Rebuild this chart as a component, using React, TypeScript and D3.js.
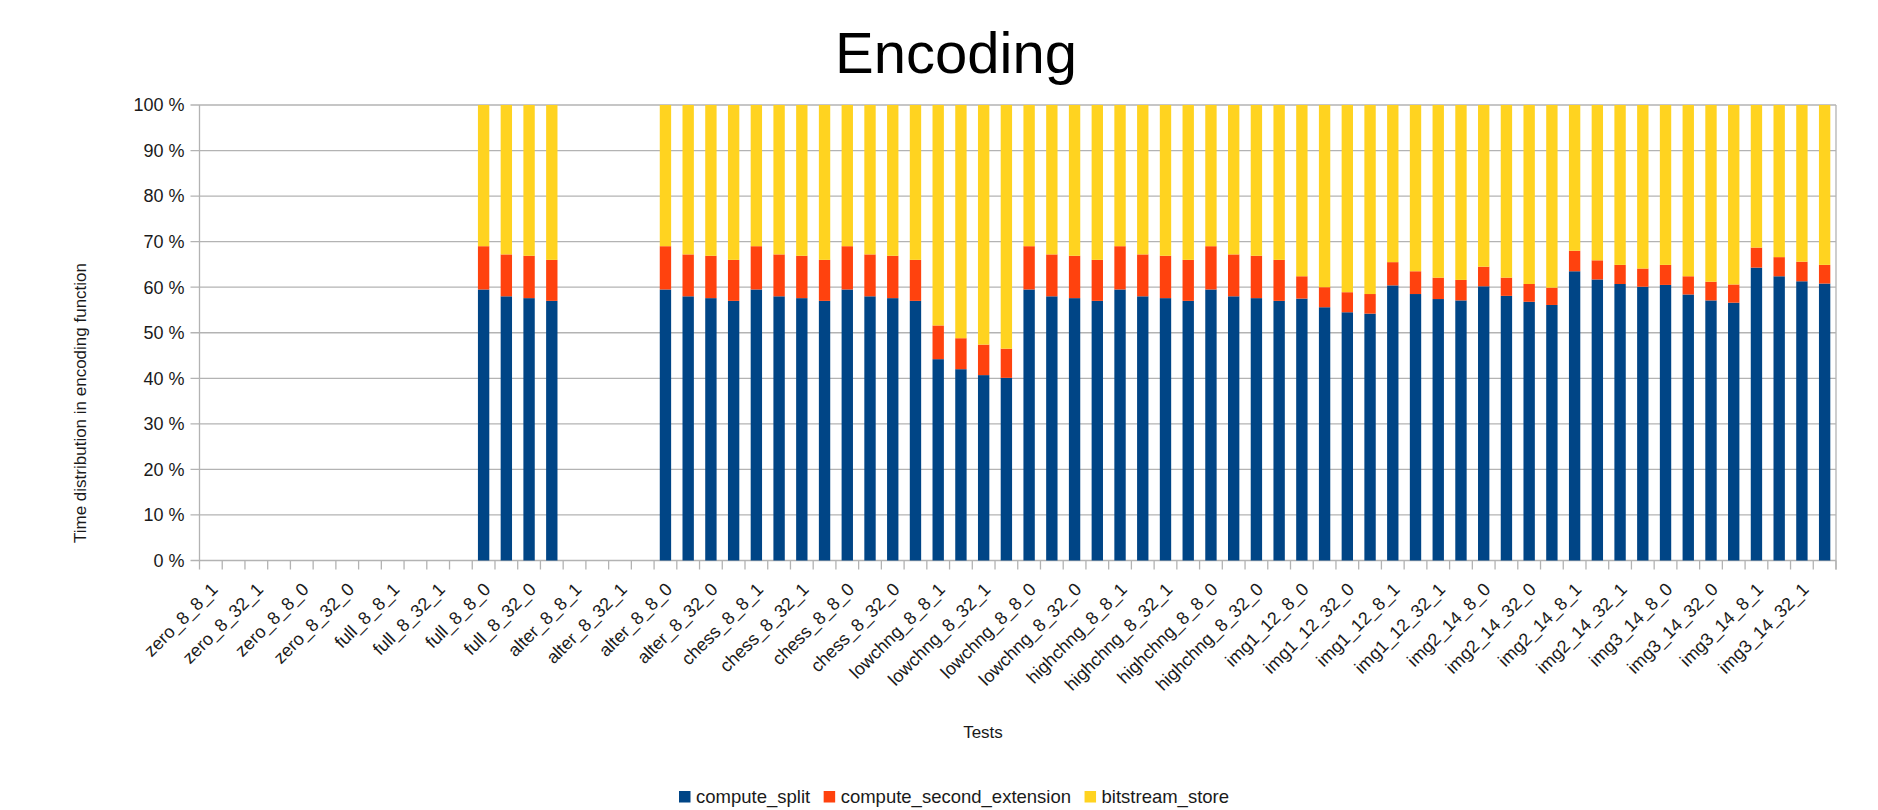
import { useEffect, useRef } from 'react';
import * as d3 from 'd3';

// every other label is hidden by the chart, the in-between names are guesses
const categories = [
  'zero_8_8_1', 'zero_8_16_1', 'zero_8_32_1', 'zero_8_64_1', 'zero_8_8_0', 'zero_8_16_0', 'zero_8_32_0', 'zero_8_64_0',
  'full_8_8_1', 'full_8_16_1', 'full_8_32_1', 'full_8_64_1', 'full_8_8_0', 'full_8_16_0', 'full_8_32_0', 'full_8_64_0',
  'alter_8_8_1', 'alter_8_16_1', 'alter_8_32_1', 'alter_8_64_1', 'alter_8_8_0', 'alter_8_16_0', 'alter_8_32_0', 'alter_8_64_0',
  'chess_8_8_1', 'chess_8_16_1', 'chess_8_32_1', 'chess_8_64_1', 'chess_8_8_0', 'chess_8_16_0', 'chess_8_32_0', 'chess_8_64_0',
  'lowchng_8_8_1', 'lowchng_8_16_1', 'lowchng_8_32_1', 'lowchng_8_64_1', 'lowchng_8_8_0', 'lowchng_8_16_0', 'lowchng_8_32_0', 'lowchng_8_64_0',
  'highchng_8_8_1', 'highchng_8_16_1', 'highchng_8_32_1', 'highchng_8_64_1', 'highchng_8_8_0', 'highchng_8_16_0', 'highchng_8_32_0', 'highchng_8_64_0',
  'img1_12_8_0', 'img1_12_16_0', 'img1_12_32_0', 'img1_12_64_0', 'img1_12_8_1', 'img1_12_16_1', 'img1_12_32_1', 'img1_12_64_1',
  'img2_14_8_0', 'img2_14_16_0', 'img2_14_32_0', 'img2_14_64_0', 'img2_14_8_1', 'img2_14_16_1', 'img2_14_32_1', 'img2_14_64_1',
  'img3_14_8_0', 'img3_14_16_0', 'img3_14_32_0', 'img3_14_64_0', 'img3_14_8_1', 'img3_14_16_1', 'img3_14_32_1', 'img3_14_64_1'
];

const computeSplit = [
  null, null, null, null, null, null, null, null,
  null, null, null, null, 59.5, 58.0, 57.6, 57.0,
  null, null, null, null, 59.5, 58.0, 57.6, 57.0,
  59.5, 58.0, 57.6, 57.0, 59.5, 58.0, 57.6, 57.0,
  44.2, 42.0, 40.7, 40.1, 59.5, 58.0, 57.6, 57.0,
  59.5, 58.0, 57.6, 57.0, 59.5, 58.0, 57.6, 57.0,
  57.5, 55.6, 54.5, 54.2, 60.4, 58.5, 57.4, 57.1,
  60.2, 58.1, 56.8, 56.1, 63.5, 61.7, 60.7, 60.1,
  60.5, 58.4, 57.1, 56.6, 64.3, 62.4, 61.3, 60.8
];

const computeSecondExtension = [
  null, null, null, null, null, null, null, null,
  null, null, null, null, 9.5, 9.2, 9.3, 9.0,
  null, null, null, null, 9.5, 9.2, 9.3, 9.0,
  9.5, 9.2, 9.3, 9.0, 9.5, 9.2, 9.3, 9.0,
  7.4, 6.8, 6.7, 6.4, 9.5, 9.2, 9.3, 9.0,
  9.5, 9.2, 9.3, 9.0, 9.5, 9.2, 9.3, 9.0,
  4.9, 4.4, 4.4, 4.3, 5.1, 5.0, 4.7, 4.5,
  4.3, 4.0, 3.9, 3.8, 4.5, 4.2, 4.2, 4.0,
  4.4, 4.0, 4.1, 4.0, 4.4, 4.2, 4.3, 4.1
];

const bitstreamStore = [
  null, null, null, null, null, null, null, null,
  null, null, null, null, 31.0, 32.8, 33.1, 34.0,
  null, null, null, null, 31.0, 32.8, 33.1, 34.0,
  31.0, 32.8, 33.1, 34.0, 31.0, 32.8, 33.1, 34.0,
  48.4, 51.2, 52.6, 53.5, 31.0, 32.8, 33.1, 34.0,
  31.0, 32.8, 33.1, 34.0, 31.0, 32.8, 33.1, 34.0,
  37.6, 40.0, 41.1, 41.5, 34.5, 36.5, 37.9, 38.4,
  35.5, 37.9, 39.3, 40.1, 32.0, 34.1, 35.1, 35.9,
  35.1, 37.6, 38.8, 39.4, 31.3, 33.4, 34.4, 35.1
];

const seriesNames = ['compute_split', 'compute_second_extension', 'bitstream_store'];
const seriesColors = ['#004586', '#ff420e', '#ffd320'];
const yTicks = [0, 0.1, 0.2, 0.3, 0.4, 0.5, 0.6, 0.7, 0.8, 0.9, 1];

const FONT = '"Liberation Sans", Arial, sans-serif';

type Row = { name: string; hasData: boolean; [key: string]: number | string | boolean };

export default function App() {
  const svgRef = useRef<SVGSVGElement>(null);

  useEffect(() => {
    document.body.style.margin = '0';
    if (!svgRef.current) return;

    const svg = d3.select(svgRef.current);
    svg.selectAll('*').remove();

    const W = 1878;
    const H = 810;
    const plot = { left: 199.5, right: 1836, top: 105, bottom: 560.5 };

    const rows: Row[] = categories.map((name, i) => ({
      name,
      hasData: computeSplit[i] != null,
      compute_split: computeSplit[i] ?? 0,
      compute_second_extension: computeSecondExtension[i] ?? 0,
      bitstream_store: bitstreamStore[i] ?? 0
    }));

    const x = d3
      .scaleBand<string>()
      .domain(categories)
      .range([plot.left, plot.right])
      .paddingInner(0.5)
      .paddingOuter(0.25);

    const y = d3.scaleLinear().domain([0, 1]).range([plot.bottom, plot.top]);

    const stack = d3
      .stack<Row>()
      .keys(seriesNames)
      .value((d, key) => (d.hasData ? (d[key] as number) : 0))
      .offset(d3.stackOffsetExpand);
    const stacked = stack(rows);

    svg.attr('width', W).attr('height', H);

    svg.append('rect').attr('width', W).attr('height', H).attr('fill', '#ffffff');

    // Title
    svg
      .append('text')
      .attr('x', 956)
      .attr('y', 73)
      .attr('text-anchor', 'middle')
      .attr('font-family', FONT)
      .attr('font-size', 58)
      .attr('fill', '#000')
      .text('Encoding');

    // Grid lines
    svg
      .append('g')
      .selectAll('line')
      .data(yTicks)
      .enter()
      .append('line')
      .attr('x1', plot.left - 9)
      .attr('x2', plot.right)
      .attr('y1', (d) => y(d))
      .attr('y2', (d) => y(d))
      .attr('stroke', '#b3b3b3')
      .attr('stroke-width', 1.3);

    // Y tick labels
    svg
      .append('g')
      .selectAll('text')
      .data(yTicks)
      .enter()
      .append('text')
      .attr('x', plot.left - 15)
      .attr('y', (d) => y(d))
      .attr('dy', '0.35em')
      .attr('text-anchor', 'end')
      .attr('font-family', FONT)
      .attr('font-size', 18)
      .attr('fill', '#1a1a1a')
      .text((d) => `${Math.round(d * 100)} %`);

    // Bars
    const step = x.step();
    stacked.forEach((layer, si) => {
      svg
        .append('g')
        .attr('fill', seriesColors[si])
        .selectAll('rect')
        .data(layer.filter((d) => d.data.hasData))
        .enter()
        .append('rect')
        .attr('x', (d) => x(d.data.name) as number)
        .attr('width', x.bandwidth())
        .attr('y', (d) => y(d[1]))
        .attr('height', (d) => y(d[0]) - y(d[1]));
    });

    // Axis lines
    svg
      .append('line')
      .attr('x1', plot.left)
      .attr('x2', plot.left)
      .attr('y1', plot.top)
      .attr('y2', plot.bottom)
      .attr('stroke', '#b3b3b3')
      .attr('stroke-width', 1.3);
    svg
      .append('line')
      .attr('x1', plot.right)
      .attr('x2', plot.right)
      .attr('y1', plot.top)
      .attr('y2', plot.bottom + 9)
      .attr('stroke', '#b3b3b3')
      .attr('stroke-width', 1.3);

    // X ticks at category boundaries
    const boundaries = d3.range(categories.length + 1).map((i) => plot.left + i * step);
    svg
      .append('g')
      .selectAll('line')
      .data(boundaries)
      .enter()
      .append('line')
      .attr('x1', (d) => d)
      .attr('x2', (d) => d)
      .attr('y1', plot.bottom)
      .attr('y2', plot.bottom + 9)
      .attr('stroke', '#b3b3b3')
      .attr('stroke-width', 1.3);

    // X labels, every other one
    svg
      .append('g')
      .selectAll('text')
      .data(categories.filter((_, i) => i % 2 === 0))
      .enter()
      .append('text')
      .attr('transform', (d) => {
        const cx = (x(d) as number) + x.bandwidth() / 2;
        return `translate(${cx + 8},${plot.bottom + 30}) rotate(-45)`;
      })
      .attr('text-anchor', 'end')
      .attr('font-family', FONT)
      .attr('font-size', 18)
      .attr('fill', '#1a1a1a')
      .text((d) => d);

    // Axis titles
    svg
      .append('text')
      .attr('x', 983)
      .attr('y', 738)
      .attr('text-anchor', 'middle')
      .attr('font-family', FONT)
      .attr('font-size', 17)
      .attr('fill', '#1a1a1a')
      .text('Tests');

    svg
      .append('text')
      .attr('transform', 'translate(86,403) rotate(-90)')
      .attr('text-anchor', 'middle')
      .attr('font-family', FONT)
      .attr('font-size', 17)
      .attr('fill', '#1a1a1a')
      .text('Time distribution in encoding function');

    // Legend
    const legend = svg.append('g').attr('transform', 'translate(679,797)');
    let offset = 0;
    seriesNames.forEach((name, i) => {
      const item = legend.append('g').attr('transform', `translate(${offset},0)`);
      item
        .append('rect')
        .attr('x', 0)
        .attr('y', -6)
        .attr('width', 11.5)
        .attr('height', 11.5)
        .attr('fill', seriesColors[i]);
      const label = item
        .append('text')
        .attr('x', 17)
        .attr('y', 0)
        .attr('dy', '0.35em')
        .attr('font-family', FONT)
        .attr('font-size', 18.5)
        .attr('fill', '#1a1a1a')
        .text(name);
      const w = (label.node() as SVGTextElement).getComputedTextLength();
      offset += 17 + w + 13.5;
    });
  }, []);

  return (
    <div style={{ position: 'absolute', left: 0, top: 0 }}>
      <svg ref={svgRef} style={{ display: 'block' }} />
    </div>
  );
}
